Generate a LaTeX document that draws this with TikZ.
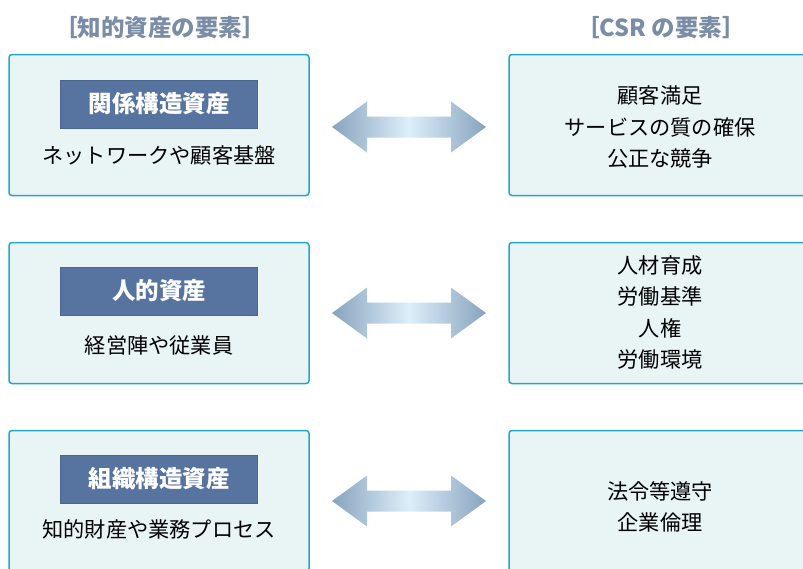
\documentclass[tikz,border=0pt]{standalone}
\usepackage{fontspec}
\setmainfont{Noto Sans CJK JP}
\usetikzlibrary{positioning,calc}
\definecolor{headgray}{HTML}{7A8CA6}
\definecolor{boxline}{HTML}{22A6CA}
\definecolor{boxfill}{HTML}{E9F4F5}
\definecolor{labelfill}{HTML}{5773A0}
\definecolor{labelline}{HTML}{4B6792}
\definecolor{arrowend}{HTML}{87A3BE}
\definecolor{arrowmid}{HTML}{DDEFFA}
\newcommand{\bothway}[1]{%
  \shade[left color=arrowend,right color=arrowend,middle color=arrowmid]
    (#1) ++(-77,0) -- ++(35,25.5) -- ++(0,-15) -- ++(84,0) -- ++(0,15)
    -- ++(35,-25.5) -- ++(-35,-25.5) -- ++(0,15) -- ++(-84,0) -- ++(0,-15) -- cycle;}

\begin{document}
\begin{tikzpicture}[x=1pt,y=-1pt,
    elembox/.style={draw=boxline,line width=1.5pt,fill=boxfill,rounded corners=3pt,
      minimum width=300pt,minimum height=141pt,inner sep=0pt},
    assetlabel/.style={draw=labelline,line width=0.6pt,fill=labelfill,text=white,
      minimum width=197pt,minimum height=48pt,inner sep=0pt,
      font=\fontsize{23.5pt}{27pt}\bfseries\selectfont},
    bodytext/.style={align=center,inner sep=0pt,font=\fontsize{21.2pt}{31.5pt}\selectfont},
    headtext/.style={text=headgray,inner sep=0pt,font=\fontsize{23.5pt}{27pt}\bfseries\selectfont}]
  \useasboundingbox (0,0) rectangle (803,568);

  % headings
  \node[headtext] (hleft) at (160,28) {［知的資産の要素］};
  \node[headtext] (hright) at (661,28) {［CSR の要素］};

  % left column
  \node[elembox] (l1) at (159,125) {};
  \node[elembox] (l2) at (159,313) {};
  \node[elembox] (l3) at (159,501) {};
  \node[assetlabel] (a1) at (159,104) {関係構造資産};
  \node[bodytext] (b1) at (159,155) {ネットワークや顧客基盤};
  \node[assetlabel] (a2) at (159,291) {人的資産};
  \node[bodytext] (b2) at (159,345) {経営陣や従業員};
  \node[assetlabel] (a3) at (159,479) {組織構造資産};
  \node[bodytext] (b3) at (159,529) {知的財産や業務プロセス};

  % right column
  \node[elembox] (r1) at (659,125) {};
  \node[elembox] (r2) at (659,313) {};
  \node[elembox] (r3) at (659,501) {};
  \node[bodytext] (c1) at (660,127) {顧客満足\\サービスの質の確保\\公正な競争};
  \node[bodytext] (c2) at (660,312.5) {人材育成\\労働基準\\人権\\労働環境};
  \node[bodytext] (c3) at (660,507) {法令等遵守\\企業倫理};

  % arrows
  \coordinate (m1) at ($(l1.east)!0.5!(r1.west)+(0,2)$);
  \bothway{m1}
  \coordinate (m2) at ($(l2.east)!0.5!(r2.west)$);
  \bothway{m2}
  \coordinate (m3) at ($(l3.east)!0.5!(r3.west)$);
  \bothway{m3}
\end{tikzpicture}
\end{document}
